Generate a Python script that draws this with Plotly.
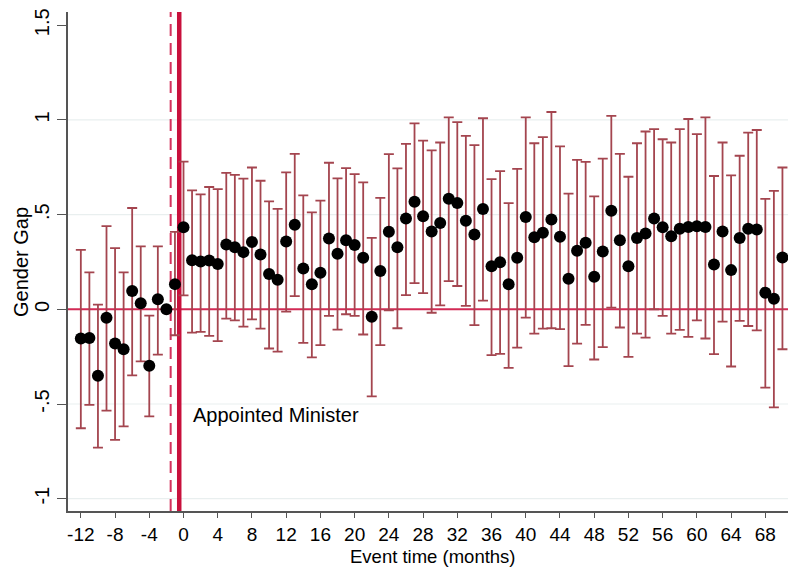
import plotly.graph_objects as go

# event time in months
months = list(range(-12, 71))

# point estimates of the gender gap
gap = [
    -0.154, -0.151, -0.351, -0.044, -0.181, -0.211, 0.097, 0.032, -0.298, 0.053,
    0.0, 0.133, 0.433, 0.259, 0.253, 0.258, 0.239, 0.342, 0.328, 0.302,
    0.356, 0.289, 0.186, 0.156, 0.358, 0.447, 0.216, 0.132, 0.193, 0.374,
    0.293, 0.365, 0.340, 0.272, -0.039, 0.202, 0.409, 0.328, 0.479, 0.568,
    0.491, 0.411, 0.456, 0.584, 0.561, 0.468, 0.395, 0.530, 0.228, 0.249,
    0.132, 0.272, 0.488, 0.381, 0.404, 0.474, 0.383, 0.161, 0.309, 0.351,
    0.172, 0.305, 0.521, 0.365, 0.228, 0.377, 0.400, 0.479, 0.433, 0.386,
    0.426, 0.435, 0.439, 0.435, 0.237, 0.411, 0.207, 0.377, 0.425, 0.421,
    0.088, 0.056, 0.274,
]

# upper and lower bounds of the confidence intervals
ci_hi = [
    0.314, 0.195, 0.025, 0.439, 0.323, 0.195, 0.535, 0.332, -0.033, 0.332,
    0.0, 0.409, 0.780, 0.628, 0.607, 0.646, 0.635, 0.720, 0.710, 0.690,
    0.749, 0.679, 0.570, 0.530, 0.723, 0.821, 0.602, 0.512, 0.574, 0.774,
    0.691, 0.746, 0.714, 0.670, 0.377, 0.588, 0.819, 0.744, 0.874, 0.982,
    0.891, 0.839, 0.881, 1.014, 0.988, 0.916, 0.867, 1.009, 0.688, 0.730,
    0.561, 0.742, 1.014, 0.877, 0.909, 1.042, 0.860, 0.611, 0.789, 0.779,
    0.596, 0.796, 1.021, 0.821, 0.700, 0.877, 0.939, 0.951, 0.898, 0.881,
    0.951, 1.005, 0.925, 1.014, 0.704, 0.881, 0.707, 0.811, 0.933, 0.947,
    0.583, 0.625, 0.749,
]
ci_lo = [
    -0.628, -0.505, -0.730, -0.535, -0.689, -0.618, -0.349, -0.275, -0.565, -0.239,
    0.0, -0.137, 0.074, -0.123, -0.119, -0.140, -0.168, -0.049, -0.058, -0.091,
    -0.053, -0.102, -0.207, -0.223, -0.012, 0.070, -0.177, -0.254, -0.189, -0.035,
    -0.107, -0.026, -0.035, -0.133, -0.460, -0.189, -0.005, -0.100, 0.075, 0.138,
    0.086, -0.018, 0.021, 0.149, 0.123, 0.018, -0.084, 0.046, -0.242, -0.235,
    -0.309, -0.202, -0.044, -0.128, -0.102, -0.100, -0.105, -0.300, -0.181, -0.082,
    -0.265, -0.200, 0.009, -0.096, -0.251, -0.128, -0.149, 0.000, -0.035, -0.128,
    -0.109, -0.146, -0.058, -0.154, -0.237, -0.065, -0.302, -0.061, -0.088, -0.111,
    -0.414, -0.518, -0.211,
]

x_ticks = list(range(-12, 69, 4))
x_labels = [str(v) for v in x_ticks]
y_ticks = [-1, -0.5, 0, 0.5, 1, 1.5]
y_labels = ['-1', '-.5', '0', '.5', '1', '1.5']
grid_vals = [-1, -0.5, 0.5, 1]

FONT = 'Liberation Sans, Arial, sans-serif'

fig = go.Figure()
fig.add_trace(go.Scatter(
    x=months, y=gap, mode='markers',
    marker=dict(color='black', size=12),
    error_y=dict(
        type='data', symmetric=False,
        array=[h - g for h, g in zip(ci_hi, gap)],
        arrayminus=[g - l for g, l in zip(gap, ci_lo)],
        color='#a4454f', thickness=1.8, width=5,
    ),
    cliponaxis=False,
    showlegend=False,
))

# light horizontal grid
for g in grid_vals:
    fig.add_shape(type='line', xref='paper', x0=0, x1=1, yref='y', y0=g, y1=g,
                  line=dict(color='#e9efef', width=1.2), layer='below')

# zero line
fig.add_shape(type='line', xref='paper', x0=0, x1=1, yref='y', y0=0, y1=0,
              line=dict(color='#d22a55', width=2), layer='below')

# event markers
fig.add_shape(type='line', xref='x', x0=-1.5, x1=-1.5, yref='paper', y0=0, y1=1,
              line=dict(color='#d4305c', width=2, dash='12px,7px'), layer='below')
fig.add_shape(type='line', xref='x', x0=-0.5, x1=-0.5, yref='paper', y0=0, y1=1,
              line=dict(color='#c8103c', width=4.5), layer='below')

fig.add_annotation(x=0.9, y=-0.558, xref='x', yref='y', text='Appointed Minister',
                   showarrow=False, xanchor='left', yanchor='middle',
                   font=dict(family=FONT, size=20, color='black'))

# axis titles placed by hand (pixel positions converted to paper units)
fig.add_annotation(x=0.507, y=-0.091, xref='paper', yref='paper',
                   text='Event time (months)', showarrow=False,
                   xanchor='center', yanchor='middle',
                   font=dict(family=FONT, size=18.5, color='black'))
fig.add_annotation(x=-0.066, y=0.5, xref='paper', yref='paper',
                   text='Gender Gap', showarrow=False, textangle=-90,
                   xanchor='center', yanchor='middle',
                   font=dict(family=FONT, size=20, color='black'))

fig.update_layout(
    width=788, height=568,
    margin=dict(l=68, r=0, t=12, b=57, autoexpand=False),
    plot_bgcolor='white', paper_bgcolor='white',
    font=dict(family=FONT, color='black'),
)
fig.update_xaxes(
    range=[-13.5, 70.65], tickvals=x_ticks, ticktext=x_labels,
    ticks='outside', ticklen=5, tickcolor='#555', tickwidth=1.3,
    showline=True, linecolor='#555', linewidth=1.5, showgrid=False, zeroline=False,
    tickfont=dict(size=19), automargin=False,
)
fig.update_yaxes(
    range=[-1.065, 1.57], tickvals=y_ticks, ticktext=y_labels, tickangle=-90,
    ticks='outside', ticklen=9, tickcolor='#555', tickwidth=1.3,
    showline=True, linecolor='#555', linewidth=1.5, showgrid=False, zeroline=False,
    tickfont=dict(size=20), automargin=False,
)

# drop the default page margin so the figure fills the window
fig.write_html('out.html', config={'displayModeBar': False},
               post_script="document.body.style.margin='0';")
